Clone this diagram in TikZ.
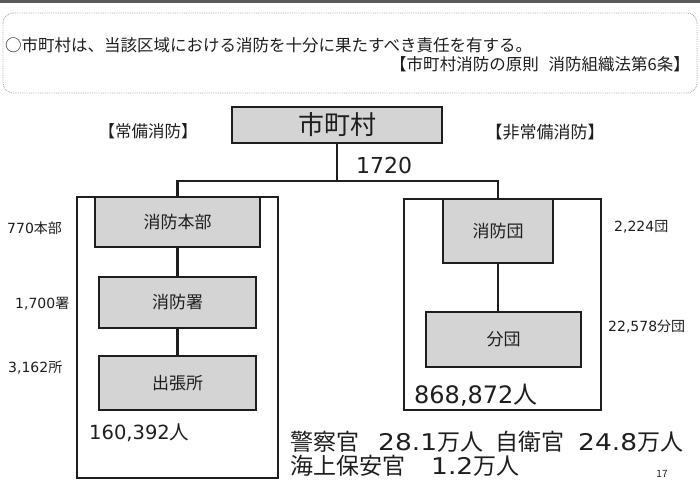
\documentclass[tikz,border=0pt]{standalone}
\usepackage{fontspec}
\setmainfont{Noto Sans CJK JP}
\newfontfamily\numfont{DejaVu Sans}
\newfontfamily\widenum[FakeStretch=1.15]{DejaVu Sans}
\definecolor{ink}{HTML}{1E1E1E}
\definecolor{boxfill}{HTML}{D4D4D4}
\begin{document}
\begin{tikzpicture}[x=1pt,y=-1pt,
  every node/.style={text=ink, inner sep=0pt},
  orgbox/.style={draw=ink, line width=1.6pt, fill=boxfill, font=\fontsize{17}{17}\selectfont},
  groupbox/.style={draw=ink, line width=2pt},
  link/.style={draw=ink, line width=2.2pt},
  count/.style={font=\fontsize{14}{14}\selectfont},
  other/.style={anchor=west, font=\fontsize{23}{23}\selectfont, text height=17pt, text depth=3pt}]
\useasboundingbox (0,0) rectangle (700,480);
% top band
\fill[gray!70!black] (0,0) rectangle (700,3);
% intro frame
\draw[gray!70, densely dotted, line width=0.8pt, rounded corners=10] (3,13) rectangle (697,93);
\node[anchor=west, font=\fontsize{16.5}{16.5}\selectfont] (intro1) at (5,45) {○市町村は、当該区域における消防を十分に果たすべき責任を有する。};
\node[anchor=east, font=\fontsize{16.5}{16.5}\selectfont] (intro2) at (690,64) {【市町村消防の原則\hspace{0.6em}消防組織法第6条】};
% headings
\node[font=\fontsize{16.5}{16.5}\selectfont] (jobi) at (148,131) {【常備消防】};
\node[font=\fontsize{17}{17}\selectfont] (hijobi) at (545,132) {【非常備消防】};
% group boxes
\node[groupbox, minimum width=201, minimum height=281] (lbox) at (177.5,337.5) {};
\node[groupbox, minimum width=197, minimum height=211] (rbox) at (502.5,304.5) {};
% top box
\node[orgbox, minimum width=210, minimum height=36, font=\fontsize{26}{26}\selectfont] (city) at (337,125) {市町村};
\node[anchor=west, font=\fontsize{22}{22}\numfont] (cnum) at (356,165) {1720};
% left branch
\node[orgbox, minimum width=165, minimum height=50] (honbu) at (177.5,222) {消防本部};
\node[orgbox, minimum width=157, minimum height=51] (sho) at (177.5,302.5) {消防署};
\node[orgbox, minimum width=157, minimum height=54] (shutcho) at (177.5,383) {出張所};
% right branch
\node[orgbox, minimum width=110, minimum height=64] (dan) at (498,231) {消防団};
\node[orgbox, minimum width=155, minimum height=55] (bundan) at (503.5,339.5) {分団};
% connectors
\coordinate (j) at (337,181);
\draw[link] (city.south) -- (j);
\draw[link] (honbu.north) -- (honbu.north |- j) -| (dan.north);
\draw[link] (honbu.south) -- (sho.north);
\draw[link] (sho.south) -- (shutcho.north);
\draw[link] (dan.south) -- (dan.south |- bundan.north);
% counts
\node[count, anchor=west] (c1) at (7,228) {{\numfont 770}本部};
\node[count, anchor=west] (c2) at (15,304) {{\numfont 1,700}署};
\node[count, anchor=west] (c3) at (8,368) {{\numfont 3,162}所};
\node[count, anchor=west] (c4) at (614,227) {{\numfont 2,224}団};
\node[count, anchor=west] (c5) at (608,327) {{\numfont 22,578}分団};
\node[anchor=west, font=\fontsize{19.5}{19.5}\selectfont] (p1) at (89,433) {{\numfont 160,392}人};
\node[anchor=west, font=\fontsize{24}{24}\selectfont] (p2) at (414,395) {{\numfont 868,872}人};
% other services
\node[other] (o1a) at (290,443) {警察官};
\node[other] (o1b) at (378,443) {{\widenum 28.1}万人};
\node[other] (o1c) at (495,443) {自衛官};
\node[other] (o1d) at (578,443) {{\widenum 24.8}万人};
\node[other] (o2a) at (290,467) {海上保安官};
\node[other] (o2b) at (431,467) {{\widenum 1.2}万人};
\node[font=\fontsize{10}{10}\selectfont, text height=7pt, text depth=0pt] (pg) at (662,474) {17};
\end{tikzpicture}
\end{document}
